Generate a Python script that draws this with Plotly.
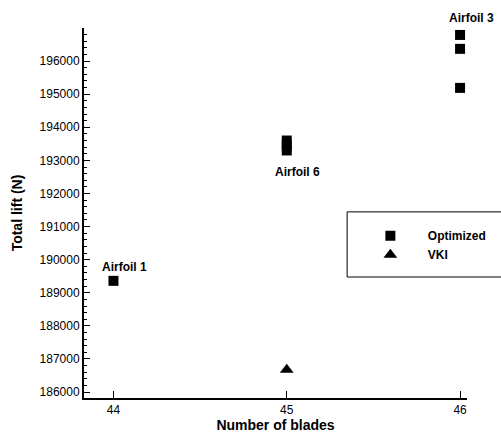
import plotly.graph_objects as go

opt_blades = [44, 45, 45, 45, 46, 46, 46]
opt_lift = [189360, 193600, 193450, 193300, 196790, 196370, 195190]
vki_blades = [45]
vki_lift = [186670]
label_text = ["Airfoil 1", "Airfoil 6", "Airfoil 3"]
label_blades = [44, 45, 46]
label_lift = [189360, 193300, 196790]
label_yshift = [14, -22, 17]
x_ticks = [44, 45, 46]
y_ticks = [186000, 187000, 188000, 189000, 190000, 191000, 192000, 193000, 194000, 195000, 196000]

FONT = "Liberation Sans, Arial, sans-serif"

fig = go.Figure()
fig.add_trace(go.Scatter(x=opt_blades, y=opt_lift, mode="markers", name="<b>Optimized</b>",
                         cliponaxis=False,
                         marker=dict(symbol="square", size=10, color="black")))
fig.add_trace(go.Scatter(x=vki_blades, y=vki_lift, mode="markers", name="<b>VKI</b>",
                         cliponaxis=False,
                         marker=dict(symbol="triangle-up", size=12, color="black")))

for t, xv, yv, ys in zip(label_text, label_blades, label_lift, label_yshift):
    fig.add_annotation(x=xv, y=yv, text="<b>" + t + "</b>", showarrow=False,
                       xshift=11, yshift=ys, font=dict(family=FONT, size=12, color="black"))

# legend frame (open on the right, running past the picture edge)
fig.add_shape(type="path", xref="paper", yref="paper",
              path="M 1.3,0.503 L 0.687,0.503 L 0.687,0.327 L 1.3,0.327",
              line=dict(color="black", width=1), layer="above")

fig.update_layout(
    width=501, height=435,
    margin=dict(l=84, r=34, t=28, b=37, autoexpand=False),
    paper_bgcolor="white", plot_bgcolor="white",
    font=dict(family=FONT, color="black"),
    showlegend=True,
    legend=dict(x=0.702, y=0.478, xanchor="left", yanchor="top",
                borderwidth=0, bgcolor="rgba(0,0,0,0)",
                font=dict(family=FONT, size=12, color="black"),
                itemwidth=65, tracegroupgap=0,
                ),
    xaxis=dict(range=[43.83, 46.04], tickvals=x_ticks, ticktext=[str(v) for v in x_ticks],
               automargin=False,
               showgrid=False, zeroline=False, showline=True, linecolor="black", linewidth=2,
               ticks="inside", ticklen=7, tickwidth=1, tickcolor="black",
               tickfont=dict(family=FONT, size=12),
               title=dict(text="<b>Number of blades</b>", font=dict(family=FONT, size=14), standoff=2)),
    yaxis=dict(range=[185820, 197000], tickvals=y_ticks, ticktext=[str(v) for v in y_ticks],
               automargin=False,
               showgrid=False, zeroline=False, showline=True, linecolor="black", linewidth=2,
               ticks="inside", ticklen=6, tickwidth=1, tickcolor="black",
               tickfont=dict(family=FONT, size=12),
               minor=dict(dtick=200, ticks="inside", ticklen=3, tickcolor="black", showgrid=False),
               title=dict(text="<b>Total lift (N)</b>", font=dict(family=FONT, size=14), standoff=14)),
)

fig.write_html("out.html", config={"displayModeBar": False},
               post_script="document.body.style.margin='0';document.body.style.overflow='hidden';")
